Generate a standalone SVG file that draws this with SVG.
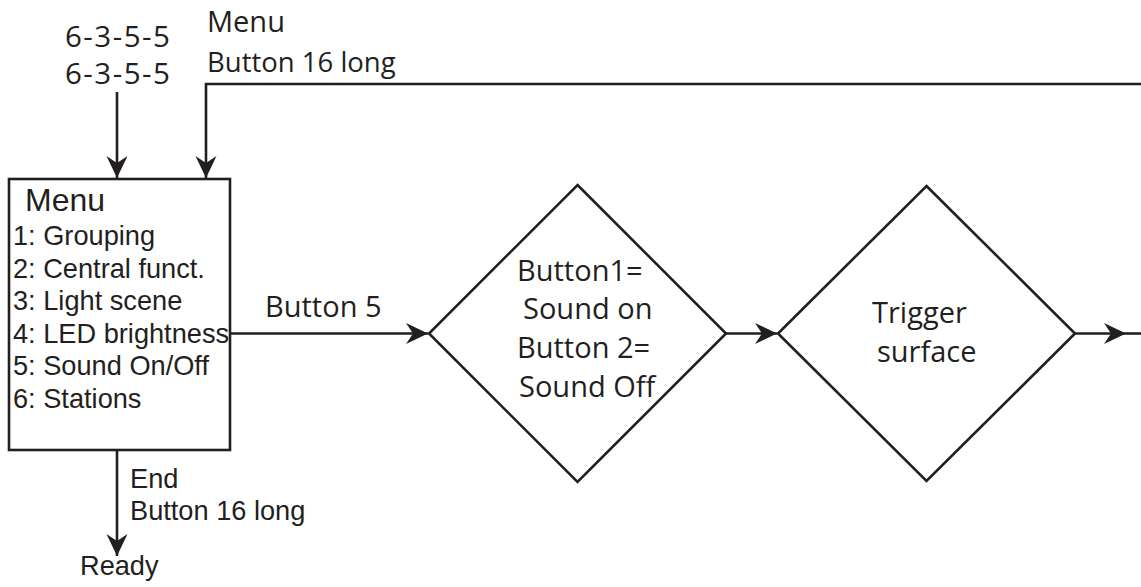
<svg xmlns="http://www.w3.org/2000/svg" width="1141" height="587" viewBox="0 0 1141 587">
<style>
.ln{fill:none;stroke:#231f20;stroke-width:2.6}
.sh{fill:#fff;stroke:#231f20;stroke-width:2.6}
.m{font-family:"Open Sans","Noto Sans","Liberation Sans",sans-serif;font-size:29px;fill:#231f20}
.a{font-family:"Liberation Sans",Arial,sans-serif;font-size:27.2px;fill:#231f20}
.code{font-size:29.5px;letter-spacing:1.5px}
</style>
<defs>
<marker id="arr" viewBox="-23 -11 24 22" refX="0" refY="0" markerWidth="24" markerHeight="22" markerUnits="userSpaceOnUse" orient="auto">
<path d="M0,0 L-22,-10.5 L-15,0 L-22,10.5 Z" fill="#231f20"/>
</marker>
</defs>
<g id="connectors">
<path class="ln" d="M117,92 V178" marker-end="url(#arr)"/>
<path class="ln" d="M1141,84 H206 V178" marker-end="url(#arr)"/>
<path class="ln" d="M230,333.5 H428" marker-end="url(#arr)"/>
<path class="ln" d="M726,333.5 H777" marker-end="url(#arr)"/>
<path class="ln" d="M1075,333.5 H1126" marker-end="url(#arr)"/>
<path class="ln" d="M1126,333.5 H1141"/>
<path class="ln" d="M117,450 V556" marker-end="url(#arr)"/>
<text class="m code" x="65" y="47">6-3-5-5</text>
<text class="m code" x="65" y="84">6-3-5-5</text>
<text class="m" x="207" y="32">Menu</text>
<text class="m" x="207" y="72" style="font-size:27.5px">Button 16 long</text>
<text class="m" x="265" y="317">Button 5</text>
<text class="a" x="130" y="488">End</text>
<text class="a" x="130" y="520">Button 16 long</text>
<text class="a" x="80" y="575">Ready</text>
</g>
<g id="menu">
<rect class="sh" x="9" y="179" width="221" height="271"/>
<text class="a" x="25" y="211" style="font-size:32px">Menu</text>
<text class="a" x="13" y="245">1: Grouping</text>
<text class="a" x="13" y="277.5">2: Central funct.</text>
<text class="a" x="13" y="310">3: Light scene</text>
<text class="a" x="13" y="342.5">4: LED brightness</text>
<text class="a" x="13" y="375">5: Sound On/Off</text>
<text class="a" x="13" y="407.5">6: Stations</text>
</g>
<g id="sound">
<polygon class="sh" points="577.5,185 726,333.5 577.5,482 429,333.5"/>
<text class="m" x="517" y="281">Button1=</text>
<text class="m" x="523" y="319">Sound on</text>
<text class="m" x="517" y="358">Button 2=</text>
<text class="m" x="519" y="397">Sound Off</text>
</g>
<g id="trigger">
<polygon class="sh" points="926.5,186 1075,333.5 926.5,481 778,333.5"/>
<text class="m" x="872" y="323">Trigger</text>
<text class="m" x="877" y="362">surface</text>
</g>
</svg>
